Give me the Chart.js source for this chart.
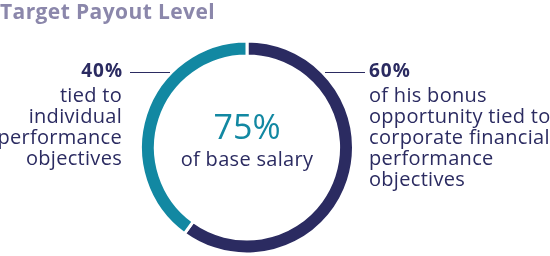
<!DOCTYPE html>
<html lang="en">
<head>
<meta charset="UTF-8">
<title>Target Payout Level</title>
<script src="https://cdn.jsdelivr.net/npm/chart.js"></script>
<style>
    html, body { margin: 0; padding: 0; background: #fff; }
    #wrap { width: 550px; height: 256px; position: relative; }
</style>
</head>
<body>
<div id="wrap"><canvas id="payoutChart"></canvas></div>
<script>
// data
const labels = ['Corporate financial performance', 'Individual performance'];
const shares = [60, 40];
const colors = ['#2b2b61', '#1288a2'];

const titleText = 'Target Payout Level';
const centerBig = '75%';
const centerSmall = 'of base salary';
const leftHead = '40%';
const leftLines = ['tied to', 'individual', 'performance', 'objectives'];
const rightHead = '60%';
const rightLines = ['of his bonus', 'opportunity tied to', 'corporate financial', 'performance', 'objectives'];

const NAVY = '#2b2b61';
const TEAL = '#1288a2';
const FONT = '"Open Sans", sans-serif';

const annotations = {
    id: 'annotations',
    afterDraw(chart) {
        const c = chart.ctx;
        const arc = chart.getDatasetMeta(0).data[0];
        const cx = arc.x, cy = arc.y;
        c.save();

        // title
        c.fillStyle = '#8b87ab';
        c.font = 'bold 21px ' + FONT;
        c.letterSpacing = '0.4px';
        c.textAlign = 'left';
        c.textBaseline = 'middle';
        c.fillText(titleText, 0, 13);

        // centre text
        c.textAlign = 'center';
        c.letterSpacing = '0px';
        c.fillStyle = TEAL;
        c.font = '34px ' + FONT;
        c.fillText(centerBig, cx, cy - 18);
        c.fillStyle = NAVY;
        c.font = '20px ' + FONT;
        c.letterSpacing = '0.3px';
        c.fillText(centerSmall, cx, cy + 13);

        // leader lines
        c.strokeStyle = NAVY;
        c.lineWidth = 1;
        c.beginPath();
        c.moveTo(130, 72.5); c.lineTo(170, 72.5);
        c.moveTo(325, 72.5); c.lineTo(365, 72.5);
        c.stroke();

        // left block
        c.textAlign = 'right';
        c.fillStyle = NAVY;
        c.font = 'bold 19px ' + FONT;
        c.letterSpacing = '1px';
        c.fillText(leftHead, 123, 72);
        c.font = '20px ' + FONT;
        c.letterSpacing = '0.3px';
        leftLines.forEach((t, i) => c.fillText(t, 122, 96 + i * 21));

        // right block
        c.textAlign = 'left';
        c.font = 'bold 19px ' + FONT;
        c.letterSpacing = '1px';
        c.fillText(rightHead, 369, 72);
        c.font = '20px ' + FONT;
        c.letterSpacing = '0.3px';
        rightLines.forEach((t, i) => c.fillText(t, 369, 96 + i * 21));

        c.restore();
    }
};

new Chart(document.getElementById('payoutChart'), {
    type: 'doughnut',
    data: {
        labels: labels,
        datasets: [{
            data: shares,
            backgroundColor: colors,
            borderColor: '#ffffff',
            borderWidth: 3
        }]
    },
    options: {
        responsive: true,
        maintainAspectRatio: false,
        animation: false,
        cutout: '86%',
        layout: { padding: { top: 39, bottom: 0, left: 139, right: 195 } },
        plugins: {
            legend: { display: false },
            tooltip: { enabled: false }
        }
    },
    plugins: [annotations]
});
</script>
</body>
</html>
